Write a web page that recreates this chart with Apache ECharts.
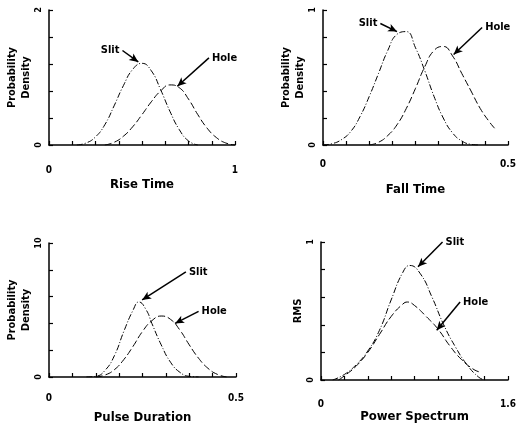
<!DOCTYPE html>
<html lang="en">
<head>
    <meta charset="UTF-8">
    <title>Slit vs Hole distributions</title>
</head>
<body style="margin:0;background:#fff;">
    <div id="main" style="width: 519px;height:430px;"></div>
    <script src="https://cdn.jsdelivr.net/npm/echarts@6/dist/echarts.min.js"></script>
    <script type="text/javascript">
        var myChart = echarts.init(document.getElementById('main'));

        // --- data ---
        // Rise Time (0..1)
        var riseSlitX = [0.15, 0.2, 0.25, 0.3, 0.35, 0.4, 0.45, 0.5, 0.55, 0.6, 0.65, 0.7, 0.75, 0.8];
        var riseSlitY = [0, 0.03, 0.12, 0.3, 0.58, 0.88, 1.12, 1.21, 1.1, 0.82, 0.5, 0.23, 0.06, 0];
        var riseHoleX = [0.3, 0.35, 0.4, 0.45, 0.5, 0.55, 0.6, 0.65, 0.7, 0.75, 0.8, 0.85, 0.9, 0.95, 1.0];
        var riseHoleY = [0, 0.04, 0.13, 0.27, 0.45, 0.64, 0.8, 0.89, 0.85, 0.68, 0.45, 0.25, 0.11, 0.03, 0];
        // Fall Time (0..0.5)
        var fallSlitX = [0, 0.025, 0.05, 0.075, 0.1, 0.125, 0.15, 0.175, 0.2, 0.225, 0.25, 0.275, 0.3, 0.325, 0.35, 0.375, 0.4, 0.42];
        var fallSlitY = [0, 0.01, 0.04, 0.1, 0.21, 0.36, 0.53, 0.7, 0.82, 0.84, 0.72, 0.55, 0.36, 0.2, 0.09, 0.03, 0.005, 0];
        var fallHoleX = [0.125, 0.15, 0.175, 0.2, 0.225, 0.25, 0.275, 0.3, 0.325, 0.35, 0.375, 0.4, 0.425, 0.45, 0.465];
        var fallHoleY = [0, 0.02, 0.07, 0.15, 0.27, 0.42, 0.58, 0.7, 0.73, 0.66, 0.53, 0.4, 0.27, 0.17, 0.12];
        // Pulse Duration (0..0.5)
        var pulseSlitX = [0.1, 0.125, 0.15, 0.175, 0.2, 0.225, 0.24, 0.26, 0.275, 0.3, 0.325, 0.35, 0.375, 0.4];
        var pulseSlitY = [0, 0.05, 0.5, 1.6, 3.4, 5.0, 5.6, 5.0, 4.0, 2.4, 1.1, 0.35, 0.05, 0];
        var pulseHoleX = [0.125, 0.15, 0.175, 0.2, 0.225, 0.25, 0.275, 0.3, 0.325, 0.35, 0.375, 0.4, 0.425, 0.45, 0.475];
        var pulseHoleY = [0, 0.15, 0.55, 1.3, 2.3, 3.4, 4.2, 4.55, 4.3, 3.5, 2.4, 1.4, 0.65, 0.2, 0];
        // Power Spectrum (0..1.6)
        var powerSlitX = [0.1, 0.2, 0.3, 0.4, 0.5, 0.6, 0.7, 0.76, 0.85, 0.95, 1.05, 1.15, 1.25, 1.35, 1.4];
        var powerSlitY = [0, 0.04, 0.11, 0.21, 0.36, 0.58, 0.78, 0.83, 0.77, 0.6, 0.4, 0.24, 0.11, 0.02, 0];
        var powerHoleX = [0.15, 0.2, 0.3, 0.4, 0.5, 0.6, 0.7, 0.74, 0.8, 0.9, 1.0, 1.1, 1.2, 1.3, 1.35];
        var powerHoleY = [0, 0.03, 0.1, 0.2, 0.33, 0.46, 0.55, 0.565, 0.54, 0.46, 0.37, 0.25, 0.15, 0.08, 0.06];

        var xNames = ['Rise Time', 'Fall Time', 'Pulse Duration', 'Power Spectrum'];
        var yNames = ['Probability\nDensity', 'Probability\nDensity', 'Probability\nDensity', 'RMS'];
        var xMax = [1, 0.5, 0.5, 1.6];
        var yMax = [2, 1, 10, 1];

        // annotation: [arrow start x, y, arrow tip x, y]; text sits beside the start
        var slitNotes = [[0.395, 1.4, 0.48, 1.23], [0.155, 0.9, 0.2, 0.84], [0.366, 7.85, 0.249, 5.75], [1.04, 1.0, 0.83, 0.82]];
        var holeNotes = [[0.86, 1.29, 0.69, 0.87], [0.43, 0.87, 0.353, 0.67], [0.4, 4.9, 0.337, 4.0], [1.19, 0.565, 0.99, 0.36]];

        var FONT = 'DejaVu Sans Condensed';

        function zip(xs, ys) {
            return xs.map(function (x, i) { return [x, ys[i]]; });
        }

        var grids = [
            {left: 49, top: 10, width: 186, height: 135},
            {left: 323, top: 10, width: 187, height: 135},
            {left: 49, top: 243, width: 187, height: 134},
            {left: 321, top: 242, width: 187, height: 138}
        ];
        var xGaps = [33, 38, 34, 26];
        var xLabelMargins = [20, 14, 16, 19];

        var xAxes = [], yAxes = [], series = [];
        for (var i = 0; i < 4; i++) {
            (function (i) {
                xAxes.push({
                    type: 'value', gridIndex: i, min: 0, max: xMax[i], interval: xMax[i] / 8,
                    name: xNames[i], nameLocation: 'middle', nameGap: xGaps[i],
                    nameTextStyle: {fontFamily: FONT, fontWeight: 'bold', fontSize: 13, color: '#000'},
                    axisLine: {lineStyle: {color: '#000', width: 1.5}},
                    axisTick: {inside: true, length: 4, lineStyle: {color: '#000', width: 1.2}},
                    axisLabel: {
                        margin: xLabelMargins[i], fontFamily: FONT, fontWeight: 'bold', fontSize: 10, color: '#000',
                        formatter: function (v) { return (v === 0 || v === xMax[i]) ? String(v) : ''; }
                    },
                    splitLine: {show: false}
                });
                yAxes.push({
                    type: 'value', gridIndex: i, min: 0, max: yMax[i], interval: yMax[i] / 5,
                    name: yNames[i], nameLocation: 'middle', nameGap: 16, nameRotate: 90,
                    nameTextStyle: {fontFamily: FONT, fontWeight: 'bold', fontSize: 11, color: '#000', lineHeight: 14},
                    axisLine: {lineStyle: {color: '#000', width: 1.5}},
                    axisTick: {inside: true, length: 4, lineStyle: {color: '#000', width: 1.2}},
                    axisLabel: {
                        rotate: 90, margin: 6, fontFamily: FONT, fontWeight: 'bold', fontSize: 9, color: '#000',
                        formatter: function (v) { return (v === 0 || v === yMax[i]) ? String(v) : ''; }
                    },
                    splitLine: {show: false}
                });
            })(i);
        }

        var curves = [
            [zip(riseSlitX, riseSlitY), zip(riseHoleX, riseHoleY)],
            [zip(fallSlitX, fallSlitY), zip(fallHoleX, fallHoleY)],
            [zip(pulseSlitX, pulseSlitY), zip(pulseHoleX, pulseHoleY)],
            [zip(powerSlitX, powerSlitY), zip(powerHoleX, powerHoleY)]
        ];

        for (var k = 0; k < 4; k++) {
            ['Slit', 'Hole'].forEach(function (nm, j) {
                var n = j === 0 ? slitNotes[k] : holeNotes[k];
                var goesRight = n[2] > n[0];
                series.push({
                    type: 'line', name: nm, xAxisIndex: k, yAxisIndex: k,
                    data: curves[k][j], smooth: true, showSymbol: false, animation: false,
                    lineStyle: {color: '#000', width: 1, type: j === 0 ? [6, 2, 1, 2] : [7, 3]},
                    markLine: {
                        silent: true, animation: false,
                        symbol: ['none', 'arrow'], symbolSize: [6, 9],
                        lineStyle: {color: '#000', width: 1.5, type: 'solid', curveness: goesRight ? 0.35 : -0.35},
                        label: {show: false},
                        data: [[{coord: [n[0], n[1]]}, {coord: [n[2], n[3]]}]]
                    },
                    markPoint: {
                        silent: true, animation: false,
                        symbol: 'circle', symbolSize: 0,
                        label: {
                            show: true, position: goesRight ? 'left' : 'right', distance: 3,
                            formatter: nm,
                            fontFamily: FONT, fontWeight: 'bold', fontSize: 11, color: '#000'
                        },
                        data: [{coord: [n[0], n[1]]}]
                    }
                });
            });
        }

        var option = {
            backgroundColor: '#fff',
            grid: grids,
            xAxis: xAxes,
            yAxis: yAxes,
            series: series
        };

        myChart.setOption(option);
    </script>
</body>
</html>
